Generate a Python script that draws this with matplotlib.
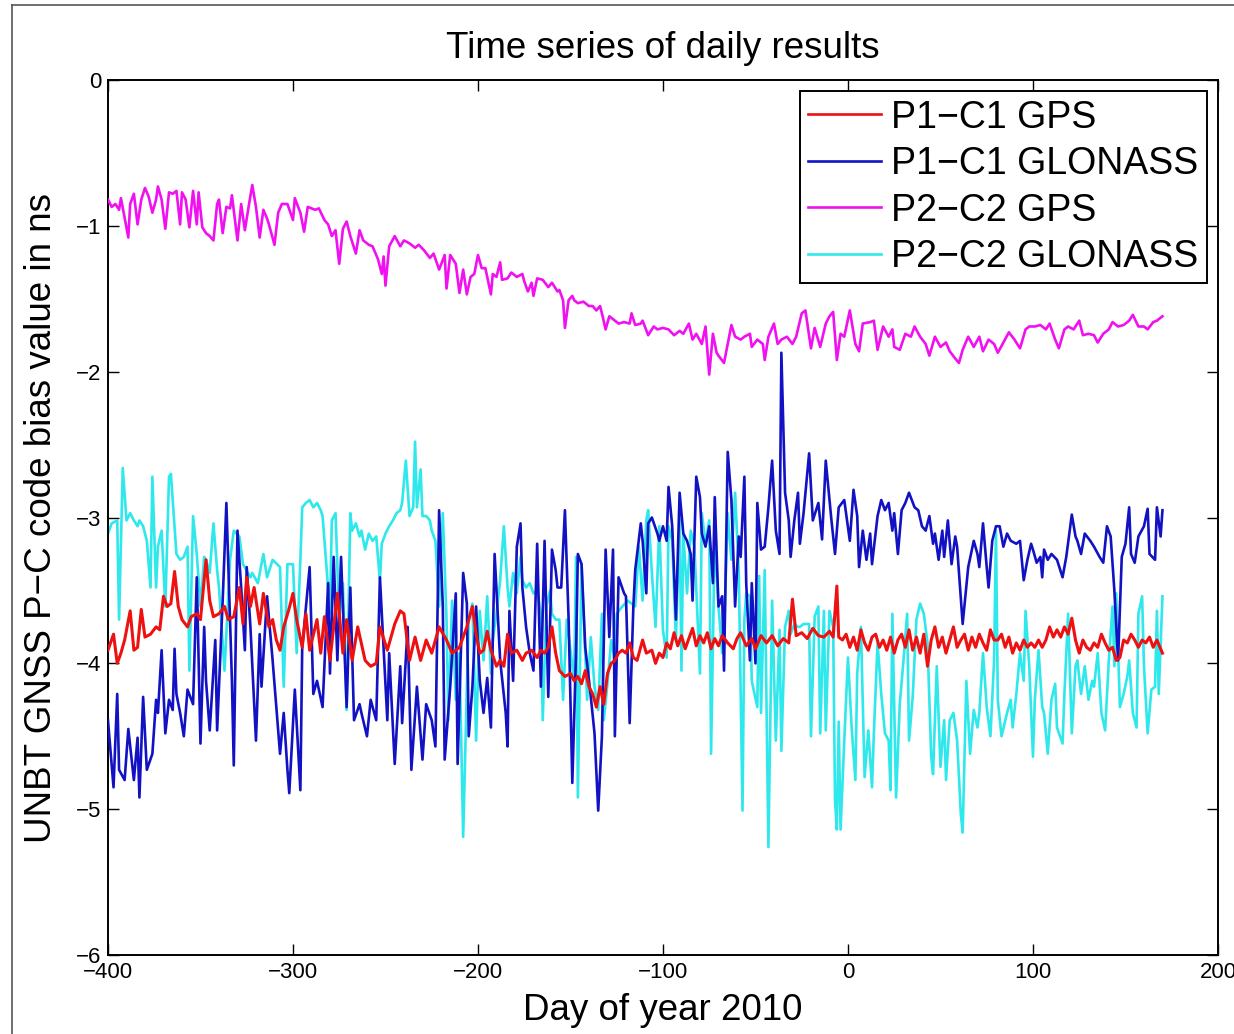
import numpy as np
import matplotlib
matplotlib.use("Agg")
import matplotlib.pyplot as plt
from matplotlib.lines import Line2D

plt.rcParams['font.family'] = ['Liberation Sans', 'DejaVu Sans']

# (day of year 2010, bias in ns) for each daily series
gps_p1 = [(-400, -3.91), (-397, -3.80), (-395, -4.00), (-393, -3.93), (-391, -3.84), (-388, -3.64), (-386, -3.91),
          (-384, -3.89), (-382, -3.63), (-380, -3.82), (-377, -3.80), (-374, -3.75), (-372, -3.77), (-370, -3.54),
          (-368, -3.61), (-366, -3.59), (-364, -3.37), (-362, -3.61), (-360, -3.70), (-357, -3.75), (-355, -3.68),
          (-352, -3.66), (-350, -3.70), (-347, -3.29), (-345, -3.57), (-343, -3.68), (-340, -3.66), (-337, -3.61),
          (-335, -3.70), (-332, -3.68), (-329, -3.48), (-327, -3.73), (-325, -3.41), (-323, -3.61), (-321, -3.48),
          (-318, -3.73), (-316, -3.52), (-313, -3.75), (-311, -3.70), (-309, -3.84), (-307, -3.91), (-305, -3.75),
          (-302, -3.62), (-300, -3.52), (-298, -3.70), (-295, -3.89), (-293, -3.66), (-291, -3.91), (-287, -3.70),
          (-285, -3.93), (-283, -3.68), (-280, -3.98), (-276, -3.52), (-273, -3.93), (-271, -3.70), (-268, -3.98),
          (-265, -3.75), (-261, -3.98), (-258, -4.02), (-255, -4.00), (-253, -3.75), (-249, -3.91), (-245, -3.73),
          (-242, -3.64), (-240, -3.66), (-237, -3.98), (-234, -3.82), (-231, -3.98), (-228, -3.84), (-225, -3.93),
          (-221, -3.75), (-217, -3.84), (-214, -3.93), (-210, -3.89), (-206, -3.75), (-203, -3.61), (-201, -3.80),
          (-199, -3.93), (-197, -3.91), (-195, -3.78), (-193, -3.91), (-190, -4.02), (-188, -3.98), (-186, -4.02),
          (-184, -3.80), (-182, -3.93), (-179, -3.91), (-176, -3.98), (-174, -3.93), (-171, -3.91), (-168, -3.96),
          (-166, -3.91), (-164, -3.93), (-162, -3.89), (-160, -3.75), (-158, -3.93), (-156, -4.05), (-153, -4.09),
          (-150, -4.07), (-148, -4.12), (-146, -4.09), (-144, -4.14), (-142, -4.05), (-140, -4.16), (-138, -4.21),
          (-136, -4.30), (-134, -4.16), (-132, -4.28), (-130, -4.07), (-128, -4.00), (-126, -3.98), (-124, -3.93),
          (-122, -3.91), (-120, -3.93), (-118, -3.86), (-116, -3.96), (-114, -3.98), (-111, -3.84), (-109, -3.93),
          (-106, -3.91), (-104, -4.00), (-102, -3.93), (-100, -3.96), (-98, -3.86), (-96, -3.90), (-94, -3.79),
          (-92, -3.88), (-90, -3.81), (-88, -3.90), (-86, -3.83), (-84, -3.76), (-82, -3.88), (-80, -3.81),
          (-78, -3.86), (-76, -3.79), (-74, -3.90), (-72, -3.83), (-70, -3.88), (-68, -3.81), (-65, -3.86),
          (-62, -3.90), (-60, -3.83), (-58, -3.79), (-55, -3.88), (-52, -3.83), (-50, -3.90), (-47, -3.81),
          (-44, -3.86), (-41, -3.81), (-38, -3.88), (-35, -3.83), (-32, -3.86), (-30, -3.56), (-28, -3.81),
          (-25, -3.79), (-22, -3.83), (-19, -3.76), (-16, -3.81), (-13, -3.82), (-10, -3.78), (-8, -3.82),
          (-6, -3.47), (-5, -3.82), (-3, -3.84), (-1, -3.80), (1, -3.89), (3, -3.82), (5, -3.91), (7, -3.77),
          (9, -3.86), (11, -3.91), (13, -3.82), (15, -3.80), (17, -3.89), (19, -3.84), (21, -3.91), (23, -3.82),
          (25, -3.93), (27, -3.84), (29, -3.80), (31, -3.89), (33, -3.77), (35, -3.91), (37, -3.82), (39, -3.93),
          (41, -3.80), (43, -4.02), (45, -3.84), (47, -3.75), (49, -3.89), (51, -3.82), (53, -3.93), (55, -3.84),
          (57, -3.75), (59, -3.89), (61, -3.84), (63, -3.80), (65, -3.91), (67, -3.82), (69, -3.89), (71, -3.80),
          (73, -3.86), (75, -3.91), (77, -3.77), (79, -3.84), (81, -3.84), (83, -3.80), (85, -3.89), (87, -3.82),
          (89, -3.93), (91, -3.86), (93, -3.91), (95, -3.84), (97, -3.89), (99, -3.86), (101, -3.89), (103, -3.84),
          (105, -3.89), (107, -3.84), (109, -3.75), (111, -3.82), (113, -3.77), (115, -3.82), (117, -3.75),
          (119, -3.80), (121, -3.69), (123, -3.84), (125, -3.93), (127, -3.84), (129, -3.89), (131, -3.91),
          (133, -3.86), (135, -3.89), (137, -3.80), (139, -3.86), (141, -3.91), (143, -3.89), (145, -3.98),
          (147, -3.96), (149, -3.84), (151, -3.86), (153, -3.80), (155, -3.84), (157, -3.89), (159, -3.84),
          (161, -3.86), (163, -3.82), (165, -3.89), (167, -3.84), (170, -3.93)]

glo_p1 = [(-400, -4.39), (-397, -4.85), (-395, -4.21), (-394, -4.73), (-391, -4.80), (-389, -4.45), (-386, -4.80),
          (-384, -4.51), (-383, -4.92), (-381, -4.23), (-379, -4.73), (-376, -4.62), (-374, -4.25), (-373, -4.34),
          (-371, -3.91), (-369, -4.48), (-367, -4.25), (-365, -4.32), (-364, -3.90), (-363, -4.21), (-361, -4.34),
          (-359, -4.50), (-357, -4.18), (-354, -4.28), (-352, -3.41), (-350, -4.55), (-348, -3.75), (-347, -4.12),
          (-345, -4.46), (-342, -3.84), (-341, -4.46), (-338, -3.57), (-336, -2.90), (-333, -4.12), (-332, -4.70),
          (-330, -3.09), (-328, -3.48), (-326, -3.91), (-325, -3.34), (-323, -3.75), (-320, -4.53), (-318, -3.80),
          (-317, -4.16), (-314, -3.54), (-311, -3.98), (-307, -4.62), (-305, -4.34), (-303, -4.73), (-302, -4.89),
          (-299, -4.18), (-296, -4.87), (-295, -3.89), (-291, -3.34), (-289, -4.21), (-287, -4.12), (-284, -4.30),
          (-281, -3.45), (-280, -4.07), (-278, -3.27), (-276, -3.98), (-274, -3.27), (-271, -4.30), (-269, -3.48),
          (-267, -4.39), (-264, -4.28), (-263, -4.34), (-260, -4.50), (-258, -4.25), (-255, -4.39), (-253, -3.41),
          (-249, -4.39), (-248, -3.93), (-245, -4.69), (-242, -4.02), (-241, -4.41), (-238, -3.75), (-236, -4.73),
          (-233, -4.16), (-230, -4.66), (-228, -4.28), (-225, -4.39), (-223, -4.57), (-221, -2.95), (-219, -3.61),
          (-218, -4.66), (-215, -4.16), (-212, -3.52), (-211, -4.69), (-208, -3.38), (-206, -3.59), (-205, -4.50),
          (-203, -4.16), (-201, -3.61), (-199, -4.12), (-197, -4.34), (-195, -4.10), (-193, -4.44), (-191, -3.25),
          (-188, -3.98), (-185, -4.34), (-184, -4.57), (-183, -3.64), (-181, -4.12), (-179, -3.20), (-177, -3.04),
          (-176, -3.48), (-174, -3.75), (-172, -3.93), (-170, -4.05), (-168, -3.18), (-166, -4.16), (-164, -3.16),
          (-162, -4.23), (-160, -3.22), (-158, -3.36), (-157, -3.48), (-155, -3.48), (-153, -2.95), (-151, -3.70),
          (-149, -4.82), (-147, -3.93), (-146, -3.25), (-144, -3.32), (-142, -3.89), (-139, -4.23), (-137, -4.48),
          (-135, -5.01), (-133, -4.50), (-131, -3.22), (-129, -3.82), (-127, -3.22), (-126, -4.50), (-124, -3.41),
          (-121, -3.52), (-120, -3.54), (-118, -4.41), (-116, -3.61), (-115, -3.36), (-112, -3.04), (-111, -3.16),
          (-109, -3.52), (-108, -3.04), (-106, -3.00), (-103, -3.11), (-102, -3.16), (-100, -3.06), (-98, -3.16),
          (-97, -2.79), (-95, -3.06), (-93, -3.70), (-91, -2.83), (-89, -3.11), (-87, -3.16), (-85, -3.25),
          (-84, -3.57), (-82, -2.72), (-80, -2.86), (-79, -3.11), (-77, -3.20), (-75, -3.06), (-73, -3.45),
          (-72, -2.86), (-70, -3.61), (-68, -3.54), (-67, -4.05), (-65, -2.55), (-63, -2.88), (-61, -3.61),
          (-59, -3.13), (-58, -3.27), (-56, -2.72), (-55, -3.45), (-53, -3.98), (-52, -3.45), (-50, -4.00),
          (-49, -2.90), (-47, -3.22), (-45, -3.20), (-43, -2.93), (-41, -2.61), (-39, -3.09), (-37, -3.25),
          (-36, -1.87), (-34, -2.83), (-32, -3.02), (-31, -3.27), (-29, -3.02), (-27, -2.83), (-26, -3.18),
          (-24, -2.97), (-21, -2.56), (-19, -3.02), (-16, -2.90), (-14, -3.15), (-12, -2.61), (-9, -3.01),
          (-7, -3.25), (-5, -2.93), (-2, -2.88), (1, -3.16), (3, -2.81), (5, -2.99), (6, -3.34), (8, -3.09),
          (10, -3.29), (12, -3.11), (13, -3.32), (16, -2.99), (18, -2.88), (20, -2.95), (22, -2.90), (24, -3.09),
          (25, -2.97), (27, -3.25), (29, -2.95), (31, -2.90), (33, -2.83), (36, -2.93), (38, -2.95), (40, -3.06),
          (42, -3.09), (44, -2.99), (46, -3.18), (47, -3.11), (49, -3.29), (51, -3.09), (52, -3.27), (54, -3.02),
          (56, -3.32), (58, -3.13), (59, -3.20), (62, -3.73), (65, -3.34), (68, -3.16), (70, -3.25), (71, -3.34),
          (73, -3.04), (75, -3.34), (76, -3.48), (78, -3.16), (80, -3.06), (82, -3.06), (84, -3.20), (86, -3.11),
          (88, -3.16), (91, -3.18), (93, -3.16), (95, -3.43), (97, -3.29), (99, -3.18), (100, -3.22), (102, -3.31),
          (104, -3.27), (105, -3.41), (106, -3.22), (108, -3.29), (110, -3.25), (113, -3.29), (116, -3.41),
          (118, -3.27), (121, -2.98), (123, -3.13), (124, -3.16), (126, -3.25), (128, -3.11), (131, -3.16),
          (133, -3.20), (136, -3.27), (138, -3.31), (140, -3.06), (142, -3.13), (143, -3.31), (144, -3.50),
          (146, -3.98), (148, -3.27), (150, -3.18), (152, -2.93), (153, -3.25), (155, -3.31), (157, -3.13),
          (160, -3.06), (162, -2.94), (163, -3.25), (166, -3.29), (167, -2.93), (169, -3.13), (170, -2.95)]

gps_p2 = [(-400, -0.82), (-398, -0.87), (-396, -0.85), (-394, -0.89), (-393, -0.81), (-389, -1.08), (-388, -0.85),
          (-386, -0.78), (-384, -0.99), (-382, -0.82), (-380, -0.74), (-378, -0.80), (-376, -0.91), (-374, -0.82),
          (-373, -0.73), (-371, -0.82), (-369, -1.02), (-367, -0.77), (-365, -0.78), (-363, -0.76), (-361, -0.99),
          (-360, -0.77), (-358, -0.82), (-356, -1.01), (-354, -0.76), (-352, -0.99), (-351, -0.77), (-349, -1.01),
          (-347, -1.05), (-345, -1.07), (-343, -1.10), (-341, -0.85), (-340, -0.82), (-338, -1.05), (-336, -0.87),
          (-334, -0.88), (-333, -0.79), (-330, -1.10), (-328, -0.85), (-326, -1.03), (-324, -0.87), (-322, -0.72),
          (-320, -0.87), (-318, -1.08), (-316, -0.89), (-314, -0.95), (-313, -0.99), (-310, -1.13), (-308, -0.91),
          (-306, -0.85), (-303, -0.85), (-300, -0.96), (-299, -0.81), (-296, -0.91), (-294, -1.04), (-292, -0.87),
          (-288, -0.89), (-286, -0.88), (-283, -0.96), (-281, -0.99), (-279, -1.07), (-277, -1.03), (-275, -1.26),
          (-273, -1.02), (-271, -0.97), (-269, -1.07), (-266, -1.19), (-264, -1.03), (-262, -1.10), (-259, -1.13),
          (-257, -1.14), (-254, -1.23), (-252, -1.33), (-251, -1.21), (-250, -1.41), (-248, -1.14), (-245, -1.07),
          (-242, -1.14), (-240, -1.10), (-237, -1.12), (-234, -1.15), (-232, -1.13), (-229, -1.17), (-226, -1.22),
          (-224, -1.19), (-221, -1.30), (-218, -1.20), (-217, -1.43), (-215, -1.20), (-212, -1.26), (-210, -1.46),
          (-208, -1.30), (-206, -1.47), (-204, -1.35), (-202, -1.33), (-200, -1.20), (-198, -1.29), (-196, -1.29),
          (-193, -1.47), (-192, -1.33), (-190, -1.35), (-188, -1.25), (-187, -1.37), (-184, -1.36), (-182, -1.32),
          (-179, -1.35), (-176, -1.33), (-175, -1.38), (-173, -1.45), (-171, -1.39), (-170, -1.48), (-168, -1.36),
          (-165, -1.37), (-162, -1.42), (-160, -1.39), (-157, -1.45), (-156, -1.44), (-154, -1.51), (-153, -1.70),
          (-151, -1.51), (-149, -1.48), (-148, -1.51), (-146, -1.53), (-143, -1.52), (-140, -1.55), (-138, -1.55),
          (-136, -1.58), (-134, -1.55), (-133, -1.60), (-131, -1.71), (-129, -1.62), (-126, -1.65), (-124, -1.67),
          (-121, -1.66), (-118, -1.67), (-117, -1.60), (-115, -1.68), (-112, -1.67), (-111, -1.65), (-108, -1.75),
          (-105, -1.69), (-103, -1.71), (-100, -1.70), (-97, -1.71), (-94, -1.75), (-91, -1.72), (-89, -1.74),
          (-86, -1.67), (-84, -1.78), (-82, -1.74), (-79, -1.81), (-77, -1.69), (-75, -2.02), (-73, -1.74),
          (-71, -1.87), (-70, -1.89), (-67, -1.94), (-63, -1.68), (-61, -1.76), (-58, -1.78), (-56, -1.76),
          (-53, -1.74), (-52, -1.83), (-49, -1.78), (-46, -1.81), (-45, -1.92), (-43, -1.76), (-40, -1.67),
          (-38, -1.81), (-36, -1.78), (-33, -1.76), (-30, -1.81), (-28, -1.76), (-25, -1.60), (-23, -1.58),
          (-20, -1.84), (-18, -1.70), (-15, -1.83), (-12, -1.67), (-10, -1.62), (-8, -1.59), (-6, -1.92),
          (-4, -1.74), (-2, -1.76), (1, -1.58), (4, -1.81), (6, -1.86), (8, -1.67), (12, -1.66), (14, -1.65),
          (16, -1.85), (19, -1.69), (22, -1.76), (24, -1.71), (25, -1.83), (28, -1.85), (31, -1.74), (34, -1.76),
          (36, -1.69), (39, -1.76), (42, -1.81), (44, -1.89), (47, -1.76), (50, -1.83), (53, -1.80), (55, -1.86),
          (58, -1.91), (60, -1.94), (62, -1.85), (65, -1.76), (68, -1.83), (71, -1.76), (73, -1.86), (76, -1.78),
          (79, -1.81), (81, -1.87), (84, -1.80), (87, -1.73), (90, -1.78), (93, -1.84), (96, -1.71), (98, -1.69),
          (101, -1.69), (104, -1.68), (107, -1.71), (109, -1.67), (112, -1.78), (114, -1.84), (117, -1.71),
          (119, -1.69), (122, -1.71), (125, -1.65), (127, -1.75), (130, -1.74), (133, -1.75), (135, -1.80),
          (138, -1.74), (141, -1.71), (143, -1.66), (146, -1.69), (149, -1.68), (152, -1.65), (154, -1.61),
          (157, -1.69), (160, -1.69), (162, -1.71), (165, -1.66), (167, -1.65), (170, -1.62)]

glo_p2 = [(-400, -3.11), (-398, -3.04), (-395, -3.02), (-394, -3.70), (-392, -2.66), (-390, -3.02), (-388, -2.97),
          (-386, -3.02), (-384, -3.06), (-383, -3.02), (-381, -3.06), (-379, -3.16), (-377, -3.48), (-376, -2.72),
          (-374, -3.48), (-373, -3.20), (-371, -3.09), (-369, -3.61), (-367, -2.72), (-366, -2.70), (-365, -2.88),
          (-363, -3.25), (-361, -3.29), (-359, -3.27), (-357, -3.20), (-356, -4.05), (-354, -2.99), (-352, -3.25),
          (-350, -3.61), (-348, -3.27), (-347, -3.29), (-345, -3.38), (-343, -3.04), (-341, -3.36), (-340, -3.48),
          (-337, -4.05), (-334, -3.29), (-332, -3.09), (-329, -3.13), (-327, -3.32), (-323, -3.41), (-322, -3.38),
          (-319, -3.45), (-316, -3.25), (-314, -3.41), (-311, -3.29), (-307, -3.34), (-305, -4.16), (-303, -3.32),
          (-300, -3.32), (-298, -3.93), (-296, -3.29), (-295, -2.93), (-293, -2.90), (-291, -2.88), (-289, -2.93),
          (-287, -2.90), (-285, -2.95), (-284, -2.99), (-282, -3.32), (-280, -3.66), (-279, -3.02), (-277, -2.97),
          (-275, -3.70), (-273, -3.45), (-271, -4.32), (-269, -2.97), (-268, -3.09), (-266, -3.04), (-264, -3.13),
          (-263, -3.09), (-261, -3.22), (-259, -3.11), (-257, -3.16), (-255, -3.13), (-253, -3.43), (-252, -3.18),
          (-250, -3.11), (-248, -3.06), (-246, -3.02), (-244, -2.97), (-242, -2.95), (-241, -2.90), (-239, -2.61),
          (-237, -2.99), (-235, -2.93), (-234, -2.48), (-233, -2.93), (-231, -2.67), (-230, -2.99), (-228, -2.99),
          (-226, -3.02), (-225, -3.09), (-223, -3.16), (-221, -3.61), (-219, -2.97), (-217, -3.70), (-216, -4.39),
          (-214, -3.57), (-212, -4.25), (-210, -3.93), (-208, -5.19), (-206, -4.16), (-205, -3.70), (-203, -3.59),
          (-201, -4.53), (-199, -3.64), (-197, -3.98), (-195, -3.54), (-193, -4.07), (-192, -3.84), (-190, -3.66),
          (-188, -3.43), (-186, -3.06), (-184, -3.48), (-183, -3.61), (-181, -3.38), (-179, -3.52), (-177, -3.27),
          (-176, -3.43), (-174, -3.48), (-172, -3.45), (-170, -3.52), (-168, -3.50), (-166, -3.66), (-165, -4.39),
          (-163, -3.61), (-161, -3.50), (-160, -3.66), (-158, -3.70), (-156, -3.70), (-154, -4.25), (-152, -3.70),
          (-150, -3.91), (-148, -4.12), (-147, -3.27), (-146, -4.92), (-144, -3.32), (-142, -3.93), (-141, -4.25),
          (-139, -3.82), (-137, -4.16), (-135, -4.32), (-133, -3.66), (-132, -4.39), (-130, -4.14), (-128, -3.84),
          (-126, -3.98), (-125, -3.66), (-122, -3.61), (-119, -3.57), (-115, -3.61), (-113, -3.20), (-111, -3.57),
          (-109, -3.02), (-108, -2.95), (-106, -3.38), (-104, -3.75), (-102, -3.06), (-100, -3.77), (-98, -3.96),
          (-97, -3.06), (-95, -3.16), (-93, -3.84), (-91, -3.00), (-90, -4.05), (-89, -3.11), (-87, -3.52),
          (-85, -3.09), (-83, -3.20), (-80, -4.07), (-79, -2.97), (-77, -3.18), (-75, -3.02), (-74, -4.62),
          (-72, -3.11), (-70, -3.61), (-68, -3.93), (-67, -3.80), (-65, -2.97), (-63, -3.29), (-61, -2.83),
          (-59, -3.38), (-57, -5.01), (-56, -3.70), (-55, -3.52), (-53, -3.54), (-52, -4.12), (-49, -4.30),
          (-48, -3.40), (-47, -4.34), (-45, -3.36), (-43, -5.26), (-41, -3.57), (-39, -4.53), (-37, -3.77),
          (-36, -4.60), (-34, -3.75), (-32, -3.64), (-31, -3.80), (-29, -3.73), (-27, -3.75), (-26, -3.75),
          (-24, -3.73), (-21, -3.73), (-20, -4.50), (-18, -3.68), (-16, -3.61), (-15, -4.48), (-13, -3.64),
          (-12, -4.46), (-10, -3.64), (-8, -3.75), (-7, -4.94), (-6, -5.14), (-5, -4.40), (-4, -5.14), (-2, -4.53),
          (0, -3.96), (2, -4.44), (4, -4.80), (5, -4.07), (7, -3.75), (9, -4.78), (11, -4.46), (13, -4.85),
          (14, -4.48), (16, -3.86), (18, -4.21), (20, -4.48), (22, -4.53), (23, -4.87), (24, -3.66), (26, -4.92),
          (28, -4.28), (30, -3.98), (32, -3.66), (33, -4.53), (35, -4.23), (37, -3.70), (39, -3.59), (41, -3.66),
          (43, -3.86), (45, -4.64), (46, -4.76), (48, -4.02), (50, -4.71), (52, -4.39), (53, -4.80), (55, -4.39),
          (57, -4.34), (59, -4.53), (61, -5.03), (62, -5.16), (64, -4.12), (66, -4.62), (68, -4.32), (70, -4.44),
          (71, -4.34), (73, -3.93), (75, -4.30), (77, -4.50), (79, -3.98), (80, -3.09), (81, -4.25), (83, -4.50),
          (86, -4.34), (88, -4.25), (89, -4.44), (91, -4.21), (93, -3.93), (95, -4.12), (96, -3.64), (98, -4.02),
          (100, -4.64), (101, -4.25), (103, -3.91), (105, -4.30), (106, -4.34), (108, -4.62), (110, -4.25),
          (112, -4.14), (113, -4.44), (116, -4.55), (117, -4.21), (119, -3.66), (121, -4.48), (123, -4.02),
          (124, -3.98), (126, -4.21), (128, -4.02), (130, -4.25), (132, -4.12), (133, -4.16), (135, -3.93),
          (137, -4.34), (139, -4.46), (141, -3.98), (143, -3.61), (144, -4.02), (145, -3.52), (147, -4.30),
          (149, -4.21), (151, -4.09), (152, -3.98), (154, -4.34), (156, -4.44), (157, -3.66), (159, -3.54),
          (160, -4.02), (162, -4.48), (164, -4.18), (166, -4.16), (167, -3.64), (168, -4.21), (170, -3.54)]

labels = ['P1\u2212C1 GPS', 'P1\u2212C1 GLONASS', 'P2\u2212C2 GPS', 'P2\u2212C2 GLONASS']
colors = ['#ee1111', '#1212c4', '#f010f0', '#2ee8ec']
series = [gps_p1, glo_p1, gps_p2, glo_p2]
widths = [2.2, 1.9, 1.9, 1.9]
zorders = [5, 3, 4, 2]

fig = plt.figure(figsize=(12.34, 10.34), dpi=100)
ax = fig.add_axes([0.0875, 0.0764, 0.8995, 0.8462])

for data, lab, col, w, z in zip(series, labels, colors, widths, zorders):
    arr = np.array(data)
    ax.plot(arr[:, 0], arr[:, 1], color=col, lw=w, label=lab, zorder=z)

ax.set_xlim(-400, 200)
ax.set_ylim(-6, 0)
ax.set_xticks(np.arange(-400, 201, 100))
ax.set_yticks(np.arange(-6, 1, 1))
ax.tick_params(direction='in', length=8, width=1, labelsize=16, top=True, right=True, pad=5)
for sp in ax.spines.values():
    sp.set_linewidth(1.4)

ax.set_title('Time series of daily results', fontsize=26.5, pad=16)
ax.set_xlabel('Day of year 2010', fontsize=26.5)
ax.set_ylabel('UNBT GNSS P\u2212C code bias value in ns', fontsize=26.5)
ax.xaxis.set_label_coords(0.5, -0.043)
ax.yaxis.set_label_coords(-0.044, 0.5)

leg = ax.legend(loc='upper right', fontsize=27, handlelength=1.95, handletextpad=0.27,
                labelspacing=0.28, borderpad=0.22, borderaxespad=0.3, fancybox=False, framealpha=1)
leg.get_frame().set_edgecolor('black')
leg.get_frame().set_linewidth(1.4)
for h in leg.get_lines():
    h.set_linewidth(1.9)

# thin outer frame along the left and top edges
fig.add_artist(Line2D([0.0097, 0.0097], [0.0, 0.9952], transform=fig.transFigure, color='#555555', lw=1.2))
fig.add_artist(Line2D([0.0097, 1.0], [0.9952, 0.9952], transform=fig.transFigure, color='#555555', lw=1.2))

fig.savefig('out.png', dpi=100, facecolor='white')
